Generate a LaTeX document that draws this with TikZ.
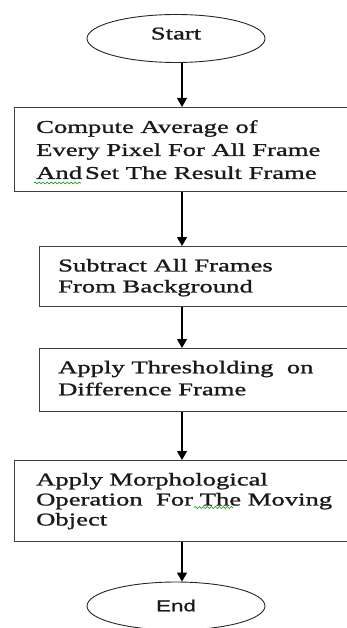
\documentclass[tikz,border=0pt]{standalone}
\usepackage{fontspec}
\setmainfont{Liberation Serif}[FakeStretch=1.48,FakeBold=1.2]
\newfontfamily\endfont{Liberation Sans}[FakeStretch=1.4,FakeBold=0.8]
\usetikzlibrary{arrows.meta,shapes.geometric,decorations.pathmorphing}

\begin{document}
\begin{tikzpicture}[x=1pt,y=-1pt,
  boxshape/.style={draw=black!75, line width=1.3pt, rectangle, anchor=north west,
    minimum width=400pt, inner sep=0pt},
  txt/.style={align=left, anchor=west, inner sep=0pt, text=black!90},
  term/.style={draw=black!85, line width=0.9pt, ellipse,
    minimum width=178pt, minimum height=48pt, inner sep=0pt, text=black!90},
  arr/.style={line width=1.3pt, -{Triangle[width=10pt,length=9pt]}},
  squig/.style={draw=green!55!black, line width=0.6pt, decorate,
    decoration={snake, amplitude=1pt, segment length=4pt}}
]
\useasboundingbox (0,0) rectangle (347,628);
\clip (0,0) rectangle (347,628);

\coordinate (col) at (182,0);

\node[term, font=\fontsize{18}{22}\selectfont, text depth=10pt] (start) at (176,38.5) {Start};

\node[boxshape, minimum height=84pt] (b1) at (14,107) {};
\node[txt, font=\fontsize{18}{23}\selectfont] (t1) at ([xshift=22pt]b1.west)
  {Compute Average of\\Every Pixel For All Frame\\And\hspace{3pt}Set The Result Frame};

\node[boxshape, minimum height=60pt] (b2) at (39,246) {};
\node[txt, font=\fontsize{18}{21}\selectfont] (t2) at ([xshift=19pt,yshift=-1pt]b2.west)
  {Subtract All Frames\\From Background};

\node[boxshape, minimum height=63pt] (b3) at (39,348) {};
\node[txt, font=\fontsize{18}{22}\selectfont] (t3) at ([xshift=19pt,yshift=2pt]b3.west)
  {Apply Thresholding\ \ on\\Difference Frame};

\node[boxshape, minimum height=81pt] (b4) at (14,460) {};
\node[txt, font=\fontsize{18}{20}\selectfont] (t4) at ([xshift=22pt]b4.west)
  {Apply Morphological\\Operation\ \ For The Moving\\Object};

\node[term, font=\endfont\fontsize{16}{19}\selectfont, text depth=1pt] (end) at (176,606) {End};

\draw[arr] (start.south -| col) -- (b1.north -| col);
\draw[arr] (b1.south -| col) -- (b2.north -| col);
\draw[arr] (b2.south -| col) -- (b3.north -| col);
\draw[arr] (b3.south -| col) -- (b4.north -| col);
\draw[arr] (b4.south -| col) -- (end.north -| col);

\draw[squig] (34,183) -- (81,183);
\draw[squig] (194,507.5) -- (233,507.5);
\end{tikzpicture}
\end{document}
